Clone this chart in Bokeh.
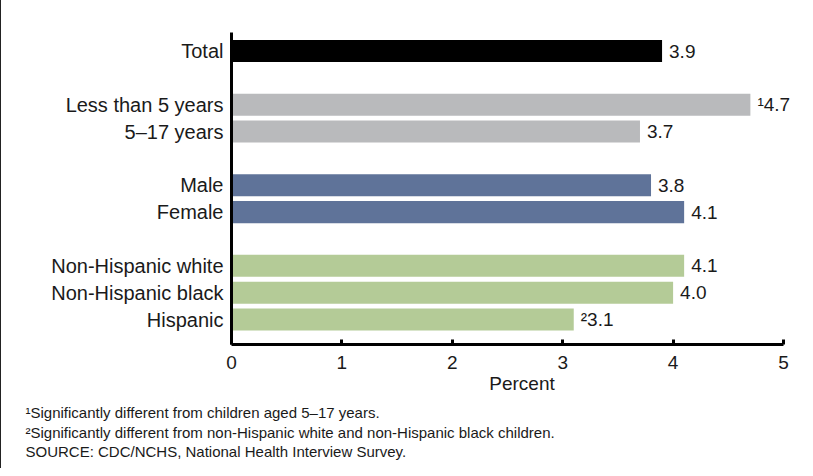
from bokeh.plotting import figure
from bokeh.models import (ColumnDataSource, Range1d, FixedTicker, LabelSet, Title)
from bokeh.core.properties import value
from bokeh.embed import file_html
from bokeh.resources import INLINE

# ---- data ----
categories = ["Total", "Less than 5 years", "5\u201317 years", "Male", "Female",
              "Non-Hispanic white", "Non-Hispanic black", "Hispanic"]
groups = ["total", "age", "age", "sex", "sex", "race", "race", "race"]
values = [3.9, 4.7, 3.7, 3.8, 4.1, 4.1, 4.0, 3.1]
notes = ["", "\u00b9", "", "", "", "", "", "\u00b2"]
group_colors = {"total": "#000000", "age": "#b9babc", "sex": "#5f7399", "race": "#b4cb97"}
x_ticks = [0, 1, 2, 3, 4, 5]
footnotes = [
    "\u00b9Significantly different from children aged 5\u201317 years.",
    "\u00b2Significantly different from non-Hispanic white and non-Hispanic black children.",
    "SOURCE: CDC/NCHS, National Health Interview Survey.",
]

# slot positions: one blank slot between groups
slots = []
g_index = 0
for i, g in enumerate(groups):
    if i > 0 and g != groups[i - 1]:
        g_index += 1
    slots.append(i + g_index)

source = ColumnDataSource(dict(
    y=slots, v=values, cat=categories,
    color=[group_colors[g] for g in groups],
    label=[n + f"{v:.1f}" for n, v in zip(notes, values)],
))

FONT = "Liberation Sans"
TXT = "#1a1a1a"

W = 811
LEFT = 230
PX_PER_UNIT = 110.4
x_end = (W - LEFT) / PX_PER_UNIT  # frame extends past 5 so value labels are not clipped

p = figure(width=W, height=468, output_backend="svg", toolbar_location=None,
           x_range=Range1d(0, x_end), y_range=Range1d(10.93, -0.69),
           min_border_left=LEFT, min_border_right=0, min_border_top=32,
           min_border_bottom=124,
           styles={"border-left": "1px solid #222222"})
p.outline_line_color = None
p.xgrid.visible = False
p.ygrid.visible = False
p.background_fill_color = "white"
p.border_fill_color = "white"

p.hbar(y="y", right="v", left=0, height=0.82, color="color", source=source,
       line_color=None)

labels = LabelSet(x="v", y="y", text="label", source=source, x_offset=7,
                  text_baseline="middle", text_font=value(FONT),
                  text_font_size=value("19px"), text_color=TXT)
p.add_layout(labels)

# x axis
xa = p.xaxis[0]
xa.bounds = (x_ticks[0], x_ticks[-1])
xa.ticker = FixedTicker(ticks=x_ticks)
xa.axis_line_width = 3
xa.axis_line_color = "black"
xa.major_tick_line_width = 3
xa.major_tick_line_color = "black"
xa.major_tick_in = 5
xa.major_tick_out = 0
xa.minor_tick_line_color = None
xa.major_label_text_font = FONT
xa.major_label_text_font_size = "19px"
xa.major_label_text_color = TXT
xa.major_label_standoff = 11
xa.axis_label = "Percent"
xa.axis_label_text_font = FONT
xa.axis_label_text_font_size = "19px"
xa.axis_label_text_font_style = "normal"
xa.axis_label_text_color = TXT
xa.axis_label_standoff = 1

# y axis
ya = p.yaxis[0]
ya.ticker = FixedTicker(ticks=slots)
ya.major_label_overrides = {s: c for s, c in zip(slots, categories)}
ya.axis_line_width = 3
ya.axis_line_color = "black"
ya.major_tick_line_color = None
ya.minor_tick_line_color = None
ya.major_tick_in = 0
ya.major_tick_out = 0
ya.major_label_text_font = FONT
ya.major_label_text_font_size = "20px"
ya.major_label_text_color = TXT
ya.major_label_standoff = 8

# footnotes as titles below the axis
foot_standoff = [10, -7, 7]
for t, s in zip(footnotes, foot_standoff):
    p.add_layout(Title(text=t, align="left", offset=-206, standoff=s,
                       text_font=FONT, text_font_size="15px",
                       text_font_style="normal", text_color=TXT), "below")

open("out.html", "w").write(file_html(p, INLINE))
